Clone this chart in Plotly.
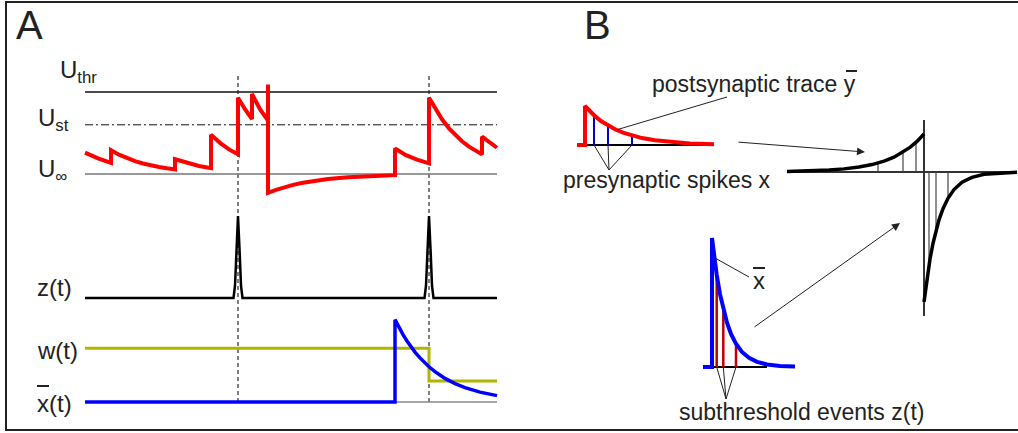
import plotly.graph_objects as go

W, H = 1018, 433

# ---------------- data ----------------
# Panel A: time in ms
t_end = 412
t_U = [0, 13, 26,
       26, 34, 42, 50, 58, 66, 74, 82, 90,
       90, 102, 114, 126,
       126, 135, 144, 153,
       153, 160, 167,
       167, 175, 183,
       183, 183,
       191, 199, 208, 218, 228, 243, 263, 283, 310,
       310, 321, 332, 344,
       344, 350, 357, 364, 370, 377, 384, 390, 397,
       397, 412]
U = [0.26, 0.19, 0.135,
     0.29, 0.236, 0.193, 0.157, 0.128, 0.104, 0.085, 0.069, 0.056,
     0.18, 0.133, 0.098, 0.072,
     0.48, 0.38, 0.30, 0.24,
     0.93, 0.79, 0.67,
     0.975, 0.79, 0.65,
     1.09, -0.23,
     -0.193, -0.161, -0.132, -0.106, -0.085, -0.061, -0.039, -0.025, -0.014,
     0.31, 0.23, 0.175, 0.13,
     0.93, 0.797, 0.667, 0.557, 0.477, 0.399, 0.334, 0.286, 0.239,
     0.455, 0.32]
U_thr, U_st, U_inf = 1.0, 0.6, 0.0

spike_times = [153, 344]
spike_shape_dt = [-4.5, -3, -1.7, 0, 1.7, 3, 4.5]
spike_shape_z = [0, 0.15, 0.55, 1, 0.55, 0.15, 0]

t_w = [0, 344, 344, 412]
w = [0.64, 0.64, 0.25, 0.25]

t_xbar = [0, 310, 310, 314, 318, 322, 326, 330, 335, 340, 344, 350, 360, 370, 380, 395, 412]
xbar = [0, 0, 0.98, 0.887, 0.802, 0.726, 0.657, 0.594, 0.525, 0.463, 0.419, 0.361, 0.281,
        0.219, 0.170, 0.117, 0.076]

# Panel B: postsynaptic trace y-bar with presynaptic spikes
r_s = [-8, 0, 0, 5, 10, 16, 23, 30, 38, 47, 57, 70, 85, 105, 129]
r_trace = [0, 0, 1, 0.859, 0.739, 0.616, 0.498, 0.403, 0.316, 0.241, 0.178, 0.120, 0.076,
           0.041, 0.020]
pre_spike_s = [9, 23, 47]
pre_spike_h = [0.76, 0.50, 0.24]

# Panel B: STDP window
dt_ltp = [-137, -115, -95, -80, -65, -52, -40, -30, -21, -14, -7, 0]
dw_ltp = [0.004, 0.008, 0.015, 0.024, 0.038, 0.057, 0.084, 0.114, 0.152, 0.189, 0.235, 0.292]
dt_ltd = [0, 2, 4, 6, 9, 12, 15, 19, 24, 30, 38, 48, 60, 93]
dw_ltd = [-1, -0.875, -0.766, -0.670, -0.549, -0.449, -0.368, -0.282, -0.202, -0.135, -0.079,
          -0.041, -0.018, -0.002]
stdp_sample_dt = [-46, -21, -8, 5, 12, 24]
stdp_sample_dw = [0.07, 0.152, 0.228, -0.716, -0.446, -0.20]

# Panel B: presynaptic trace x-bar with subthreshold events
xb_s = [-9, 0, 0, 2, 4.7, 8, 11.3, 15, 19, 24, 30, 37, 45, 55, 68, 83]
xb_trace = [0, 0, 1, 0.867, 0.715, 0.565, 0.446, 0.343, 0.257, 0.180, 0.117, 0.071, 0.040,
            0.020, 0.008, 0.003]
post_event_s = [4.7, 11.3, 24]
post_event_h = [0.72, 0.45, 0.18]

# ---------------- layout helpers ----------------
AX = {
    'x':  dict(p0=80, p1=502, origin=85, k=1.0),
    'y':  dict(top=55, bot=215, origin=174, k=1 / 82),
    'y2': dict(top=205, bot=305, origin=298, k=1 / 82),
    'y3': dict(top=310, bot=412, origin=402, k=1 / 84),
    'x2': dict(p0=572, p1=732, origin=585, k=1.0),
    'y4': dict(top=92, bot=175, origin=145, k=1 / 39),
    'x3': dict(p0=787, p1=1017, origin=924, k=1.0),
    'y5': dict(top=120, bot=316, origin=172, k=1 / 130),
    'x4': dict(p0=698, p1=800, origin=712, k=1.0),
    'y6': dict(top=228, bot=404, origin=367, k=1 / 129),
}


def px_to_x(ref, px):
    a = AX[ref]
    return (px - a['origin']) * a['k']


def py_to_y(ref, py):
    a = AX[ref]
    return (a['origin'] - py) * a['k']


def xaxis_def(ref, show_zero=False):
    a = AX[ref]
    d = dict(domain=[a['p0'] / W, a['p1'] / W],
             range=[(a['p0'] - a['origin']) * a['k'], (a['p1'] - a['origin']) * a['k']],
             fixedrange=True)
    if show_zero:
        d.update(visible=True, showgrid=False, showticklabels=False, showline=False, ticks='',
                 zeroline=True, zerolinecolor='#333', zerolinewidth=2)
    else:
        d.update(visible=False)
    return d


def yaxis_def(ref, anchor, show_zero=False):
    a = AX[ref]
    d = dict(domain=[1 - a['bot'] / H, 1 - a['top'] / H],
             range=[(a['origin'] - a['bot']) * a['k'], (a['origin'] - a['top']) * a['k']],
             anchor=anchor, fixedrange=True)
    if show_zero:
        d.update(visible=True, showgrid=False, showticklabels=False, showline=False, ticks='',
                 zeroline=True, zerolinecolor='#333', zerolinewidth=2)
    else:
        d.update(visible=False)
    return d


fig = go.Figure()


def add(x, y, xa, ya, color, width, dash=None):
    fig.add_trace(go.Scatter(x=x, y=y, xaxis=xa, yaxis=ya, mode='lines',
                             line=dict(color=color, width=width, dash=dash),
                             hoverinfo='skip', showlegend=False))


# ---- Panel A ----
add([0, t_end], [U_thr, U_thr], 'x', 'y', '#111', 1.3)
add([0, t_end], [U_st, U_st], 'x', 'y', '#111', 1, '8px,3px,2px,3px')
add([0, t_end], [U_inf, U_inf], 'x', 'y', '#777', 1.3)
add(t_U, U, 'x', 'y', '#ff0000', 4)

t_z, z_vals = [0], [0]
for ts in spike_times:
    for dt, zz in zip(spike_shape_dt, spike_shape_z):
        t_z.append(ts + dt)
        z_vals.append(zz)
t_z.append(t_end)
z_vals.append(0)
add(t_z, z_vals, 'x', 'y2', '#000', 2.5)

add([0, t_end], [0, 0], 'x', 'y3', '#888', 1.5)
add(t_w, w, 'x', 'y3', '#b4b400', 3)
add(t_xbar, xbar, 'x', 'y3', '#0000ff', 3.5)

# ---- Panel B: postsynaptic trace ----
add([0, r_s[-1]], [0, 0], 'x2', 'y4', '#000', 2)
for s, h in zip(pre_spike_s, pre_spike_h):
    add([s, s], [0, h], 'x2', 'y4', '#0000cc', 2)
add(r_s, r_trace, 'x2', 'y4', '#ff0000', 4)

# ---- Panel B: STDP ----
for d, h in zip(stdp_sample_dt, stdp_sample_dw):
    add([d, d], [0, h], 'x3', 'y5', '#444', 1.2)
add(dt_ltp, dw_ltp, 'x3', 'y5', '#000', 3.5)
add(dt_ltd, dw_ltd, 'x3', 'y5', '#000', 3.5)

# ---- Panel B: xbar trace ----
add([0, 55], [0, 0], 'x4', 'y6', '#000', 2)
for s, h in zip(post_event_s, post_event_h):
    add([s, s], [0, h], 'x4', 'y6', '#c00000', 2.5)
add(xb_s, xb_trace, 'x4', 'y6', '#0000ff', 4)

# ---------------- shapes ----------------
shapes = [dict(type='rect', xref='paper', yref='paper', x0=6 / W, x1=1.02, y0=1 - 430 / H, y1=1 - 2 / H,
               line=dict(color='#222', width=2), fillcolor='rgba(0,0,0,0)', layer='above')]
for ts in spike_times:
    shapes.append(dict(type='line', xref='x', yref='paper', x0=ts, x1=ts,
                       y0=1 - 402 / H, y1=1 - 76 / H,
                       line=dict(color='#000', width=1, dash='4px,3px'), layer='below'))


def pointer(xref, yref, x, y, tail):
    shapes.append(dict(type='line', xref=xref, yref=yref, x0=x, y0=y,
                       x1=px_to_x(xref, tail[0]), y1=py_to_y(yref, tail[1]),
                       line=dict(color='#222', width=1), layer='above'))


def overbar(px0, px1, py):
    # text decoration (bar over a symbol), placed in page pixels
    shapes.append(dict(type='line', xref='paper', yref='paper', x0=px0 / W, x1=px1 / W,
                       y0=1 - py / H, y1=1 - py / H, line=dict(color='#222', width=2),
                       layer='above'))


pointer('x2', 'y4', 33, 0.40, (727, 97))
for s in pre_spike_s:
    pointer('x2', 'y4', s, 0, (609, 170))
pointer('x4', 'y6', 3, 0.845, (749, 277))
for s in post_event_s:
    pointer('x4', 'y6', s, 0, (726, 399))

# ---------------- annotations ----------------
FONT = 'Liberation Sans, Arial, sans-serif'
TXT = '#222'
ann = []


def label(text, px, py, size, anchor='left'):
    ann.append(dict(text=text, xref='paper', yref='paper', x=px / W, y=1 - py / H,
                    xanchor=anchor, yanchor='middle', showarrow=False,
                    font=dict(family=FONT, size=size, color=TXT)))


def arrow(head, tail):
    ann.append(dict(text='', xref='paper', yref='paper', x=head[0] / W, y=1 - head[1] / H,
                    axref='pixel', ayref='pixel', ax=tail[0] - head[0], ay=tail[1] - head[1],
                    showarrow=True, arrowhead=2, arrowsize=1.6, arrowwidth=1, arrowcolor='#222'))


label('A', 14, 25, 40)
label('B', 582, 25, 40)
label('U<sub>thr</sub>', 58, 71, 24)
label('U<sub>st</sub>', 36, 120, 24)
label('U<sub>∞</sub>', 36, 170, 24)
label('z(t)', 35, 287, 24)
label('w(t)', 35, 350, 24)
label('x(t)', 35, 403, 24)
overbar(37, 49, 386)
label('postsynaptic trace y', 650, 84, 23)
overbar(846, 857, 71)
label('presynaptic spikes x', 561, 180, 23)
label('x', 751, 280, 24)
overbar(753, 765, 268)
label('subthreshold events z(t)', 677, 412, 23)

arrow((865, 152), (737, 142))
arrow((900, 223), (753, 328))

fig.update_layout(
    width=W, height=H, margin=dict(l=0, r=0, t=0, b=0),
    paper_bgcolor='white', plot_bgcolor='rgba(0,0,0,0)',
    showlegend=False,
    xaxis=xaxis_def('x'),
    yaxis=yaxis_def('y', 'x'),
    yaxis2=yaxis_def('y2', 'x'),
    yaxis3=yaxis_def('y3', 'x'),
    xaxis2=dict(xaxis_def('x2'), anchor='y4'),
    yaxis4=yaxis_def('y4', 'x2'),
    xaxis3=dict(xaxis_def('x3', True), anchor='y5'),
    yaxis5=yaxis_def('y5', 'x3', True),
    xaxis4=dict(xaxis_def('x4'), anchor='y6'),
    yaxis6=yaxis_def('y6', 'x4'),
    shapes=shapes,
    annotations=ann,
)

fig.write_html('out.html')
